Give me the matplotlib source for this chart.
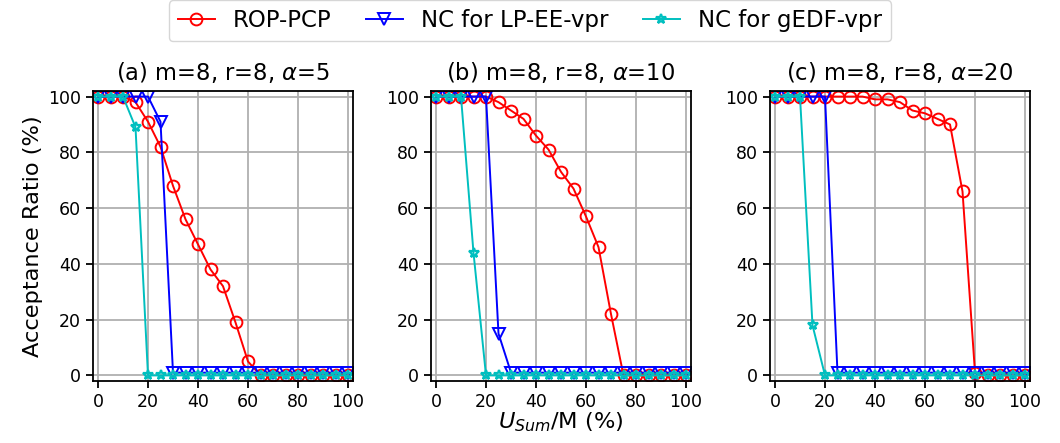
import matplotlib
matplotlib.use("Agg")
import matplotlib.pyplot as plt

x = list(range(0, 105, 5))

# (a) alpha=5
rop_a = [100, 100, 100, 98, 91, 82, 68, 56, 47, 38, 32, 19, 5, 0, 0, 0, 0, 0, 0, 0, 0]
lpee_a = [100, 100, 100, 100, 100, 91, 1, 1, 1, 1, 1, 1, 1, 1, 1, 1, 1, 1, 1, 1, 1]
gedf_a = [100, 100, 100, 89, 0, 0, 0, 0, 0, 0, 0, 0, 0, 0, 0, 0, 0, 0, 0, 0, 0]

# (b) alpha=10
rop_b = [100, 100, 100, 100, 100, 98, 95, 92, 86, 81, 73, 67, 57, 46, 22, 0, 0, 0, 0, 0, 0]
lpee_b = [100, 100, 100, 100, 100, 15, 1, 1, 1, 1, 1, 1, 1, 1, 1, 1, 1, 1, 1, 1, 1]
gedf_b = [100, 100, 100, 44, 0, 0, 0, 0, 0, 0, 0, 0, 0, 0, 0, 0, 0, 0, 0, 0, 0]

# (c) alpha=20
rop_c = [100, 100, 100, 100, 100, 100, 100, 100, 99, 99, 98, 95, 94, 92, 90, 66, 1, 0, 0, 0, 0]
lpee_c = [100, 100, 100, 100, 100, 1, 1, 1, 1, 1, 1, 1, 1, 1, 1, 1, 1, 1, 1, 1, 1]
gedf_c = [100, 100, 100, 18, 0, 0, 0, 0, 0, 0, 0, 0, 0, 0, 0, 0, 0, 0, 0, 0, 0]

titles = [r"(a) m=8, r=8, $\alpha$=5", r"(b) m=8, r=8, $\alpha$=10", r"(c) m=8, r=8, $\alpha$=20"]
panels = [(rop_a, lpee_a, gedf_a), (rop_b, lpee_b, gedf_b), (rop_c, lpee_c, gedf_c)]

fig = plt.figure(figsize=(10.6, 4.43), dpi=100)
lefts = [93, 431, 770]
for i, (rop, lpee, gedf) in enumerate(panels):
    ax = fig.add_axes([lefts[i] / 1060, (443 - 381) / 443, 260 / 1060, 290 / 443])
    l1, = ax.plot(x, rop, 'r-o', markersize=8.5, markerfacecolor='none', markeredgewidth=1.4,
                  linewidth=1.4, label="ROP-PCP")
    l2, = ax.plot(x, lpee, 'b-v', markersize=8, markerfacecolor='none', markeredgewidth=1.4,
                  linewidth=1.4, label="NC for LP-EE-vpr")
    l3, = ax.plot(x, gedf, 'c-*', markersize=7, markerfacecolor='none', markeredgewidth=1.6,
                  linewidth=1.4, label="NC for gEDF-vpr")
    ax.set_xlim(-2, 102)
    ax.set_ylim(-2, 102)
    ax.set_xticks(range(0, 101, 20))
    ax.set_yticks(range(0, 101, 20))
    ax.grid(True, color='#b0b0b0', linewidth=1.3)
    ax.tick_params(labelsize=12.5, length=5, width=1.3)
    for s in ax.spines.values():
        s.set_linewidth(1.3)
    ax.set_title(titles[i], fontsize=16.3, pad=8)
    if i == 0:
        ax.set_ylabel("Acceptance Ratio (%)", fontsize=16.2)
    if i == 1:
        ax.set_xlabel(r"$U_{Sum}$/M (%)", fontsize=16.2, labelpad=0)

fig.legend(handles=[l1, l2, l3], loc='upper center', bbox_to_anchor=(0.5, 1.01), ncol=3,
           fontsize=16.5, handlelength=1.6, columnspacing=1.5, borderaxespad=0.2)
fig.savefig("out.png", dpi=100)
